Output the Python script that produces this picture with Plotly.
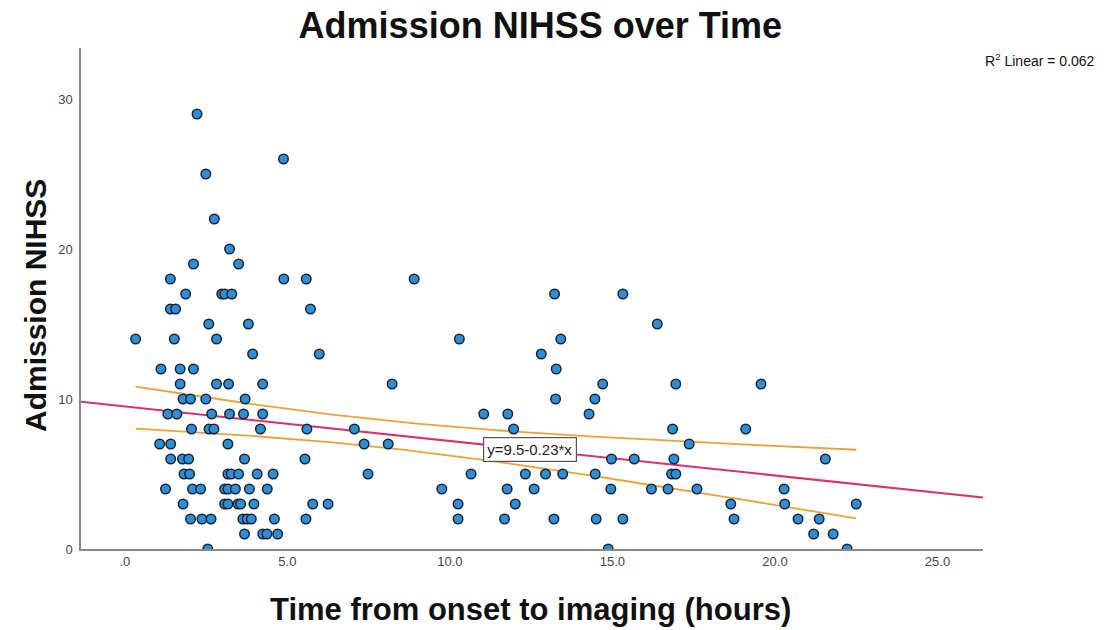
import numpy as np
import plotly.graph_objects as go

# Time from onset to imaging (hours) and admission NIHSS, grouped by score
nihss_scores = [29, 26, 25, 22, 20, 19, 18, 17, 16, 15, 14, 13, 12, 11, 10, 9, 8, 7, 6, 5, 4, 3, 2, 1, 0]
onset_hours = [
    [2.22],
    [4.88],
    [2.49],
    [2.75],
    [3.22],
    [2.11, 3.5],
    [1.4, 4.89, 5.58, 8.9],
    [1.87, 2.98, 3.07, 3.29, 13.22, 15.32],
    [1.4, 1.56, 5.71],
    [2.58, 3.8, 16.38],
    [0.33, 1.52, 2.82, 10.29, 13.41],
    [3.93, 5.98, 12.81],
    [1.11, 1.70, 2.11, 13.27],
    [1.70, 2.82, 3.19, 4.24, 8.22, 14.7, 16.95, 19.57],
    [1.79, 2.02, 2.49, 3.7, 13.25, 14.46],
    [1.32, 1.6, 2.67, 3.22, 3.65, 4.24, 11.04, 11.78, 14.28],
    [2.05, 2.59, 2.74, 4.17, 5.6, 7.06, 11.96, 16.85, 19.1],
    [1.07, 1.41, 3.17, 7.36, 8.1, 17.36],
    [1.41, 1.77, 1.96, 3.68, 5.54, 14.97, 15.67, 16.89, 21.55],
    [1.82, 1.99, 3.17, 3.27, 3.5, 4.07, 4.56, 7.48, 10.65, 12.32, 12.94, 13.47, 14.47, 16.82, 16.95],
    [1.25, 2.08, 2.33, 3.07, 3.17, 3.4, 3.83, 4.38, 9.75, 11.76, 12.59, 14.95, 16.2, 16.71, 17.6, 20.28],
    [1.79, 3.07, 3.17, 3.48, 3.56, 3.97, 5.78, 6.25, 10.25, 12.01, 18.64, 20.3, 22.5],
    [2.02, 2.37, 2.65, 3.63, 3.76, 3.89, 4.6, 5.57, 10.25, 11.68, 13.2, 14.5, 15.32, 18.74, 20.71, 21.36],
    [3.68, 4.24, 4.37, 4.7, 21.19, 21.79],
    [2.55, 14.87, 22.22],
]

# Fitted linear model and its fit statistic
intercept = 9.5
slope = -0.23
r_squared_text = "0.062"

x_ticks = [0, 5, 10, 15, 20, 25]
x_tick_labels = [".0", "5.0", "10.0", "15.0", "20.0", "25.0"]
y_ticks = [0, 10, 20, 30]

x_range = [-1.35, 26.4]
y_range = [0, 33.4]

hours = np.array([h for group in onset_hours for h in group])
scores = np.array([s for s, group in zip(nihss_scores, onset_hours) for _ in group], dtype=float)

# 95% confidence band for the mean around the fitted line
n = len(hours)
pred = intercept + slope * hours
resid_sd = np.sqrt(np.sum((scores - pred) ** 2) / (n - 2))
x_bar = hours.mean()
sxx = np.sum((hours - x_bar) ** 2)
t_crit = 1.976
band_x = np.linspace(hours.min(), hours.max(), 100)
band_fit = intercept + slope * band_x
half_width = t_crit * resid_sd * np.sqrt(1 / n + (band_x - x_bar) ** 2 / sxx)

line_x = np.array(x_range)
line_y = intercept + slope * line_x

FONT = "Liberation Sans, Arial"

fig = go.Figure()

fig.add_trace(go.Scatter(
    x=band_x, y=band_fit + half_width, mode="lines",
    line=dict(color="#e9a23b", width=1.8), hoverinfo="skip", showlegend=False,
))
fig.add_trace(go.Scatter(
    x=band_x, y=band_fit - half_width, mode="lines",
    line=dict(color="#e9a23b", width=1.8), hoverinfo="skip", showlegend=False,
))
fig.add_trace(go.Scatter(
    x=line_x, y=line_y, mode="lines",
    line=dict(color="#d8336a", width=2), hoverinfo="skip", showlegend=False,
))
fig.add_trace(go.Scatter(
    x=hours, y=scores, mode="markers",
    marker=dict(size=9.5, color="#2b8fd9", line=dict(color="#1a2530", width=1.5)),
    showlegend=False,
))

label_x = 12.45
fig.add_annotation(
    x=label_x, y=intercept + slope * label_x, xref="x", yref="y",
    text=f"y={intercept}{slope}*x", showarrow=False,
    font=dict(family=FONT, size=15, color="#222222"),
    bgcolor="white", bordercolor="#555555", borderwidth=1.2, borderpad=3,
)

fig.add_annotation(
    x=1.126, y=0.976, xref="paper", yref="paper", xanchor="right", yanchor="middle",
    text=f"R<sup>2</sup> Linear = {r_squared_text}", showarrow=False,
    font=dict(family=FONT, size=14, color="#111111"),
)

fig.add_annotation(
    x=-0.051, y=0.487, xref="paper", yref="paper", xanchor="center", yanchor="middle",
    text="<b>Admission NIHSS</b>", textangle=-90, showarrow=False,
    font=dict(family=FONT, size=30, color="#111111"),
)
fig.add_annotation(
    x=0.498, y=-0.12, xref="paper", yref="paper", xanchor="center", yanchor="middle",
    text="<b>Time from onset to imaging (hours)</b>", showarrow=False,
    font=dict(family=FONT, size=31, color="#111111"),
)

fig.update_layout(
    width=1105, height=630,
    margin=dict(l=81, r=122, t=48, b=81),
    paper_bgcolor="white", plot_bgcolor="white",
    title=dict(
        text="<b>Admission NIHSS over Time</b>",
        x=0.489, xref="container", xanchor="center",
        y=0.96, yref="container", yanchor="middle",
        font=dict(family=FONT, size=36, color="#111111"),
    ),
    xaxis=dict(
        range=x_range, tickvals=x_ticks, ticktext=x_tick_labels,
        showgrid=False, zeroline=False, showline=True, linecolor="#8a8a8a", linewidth=1.5,
        ticks="", tickfont=dict(family=FONT, size=13, color="#444444"),
    ),
    yaxis=dict(
        range=y_range, tickvals=y_ticks,
        showgrid=False, zeroline=False, showline=True, linecolor="#8a8a8a", linewidth=1.5,
        ticks="", tickfont=dict(family=FONT, size=13, color="#444444"),
        ticklabelstandoff=4,
    ),
)

fig.write_html("out.html")
